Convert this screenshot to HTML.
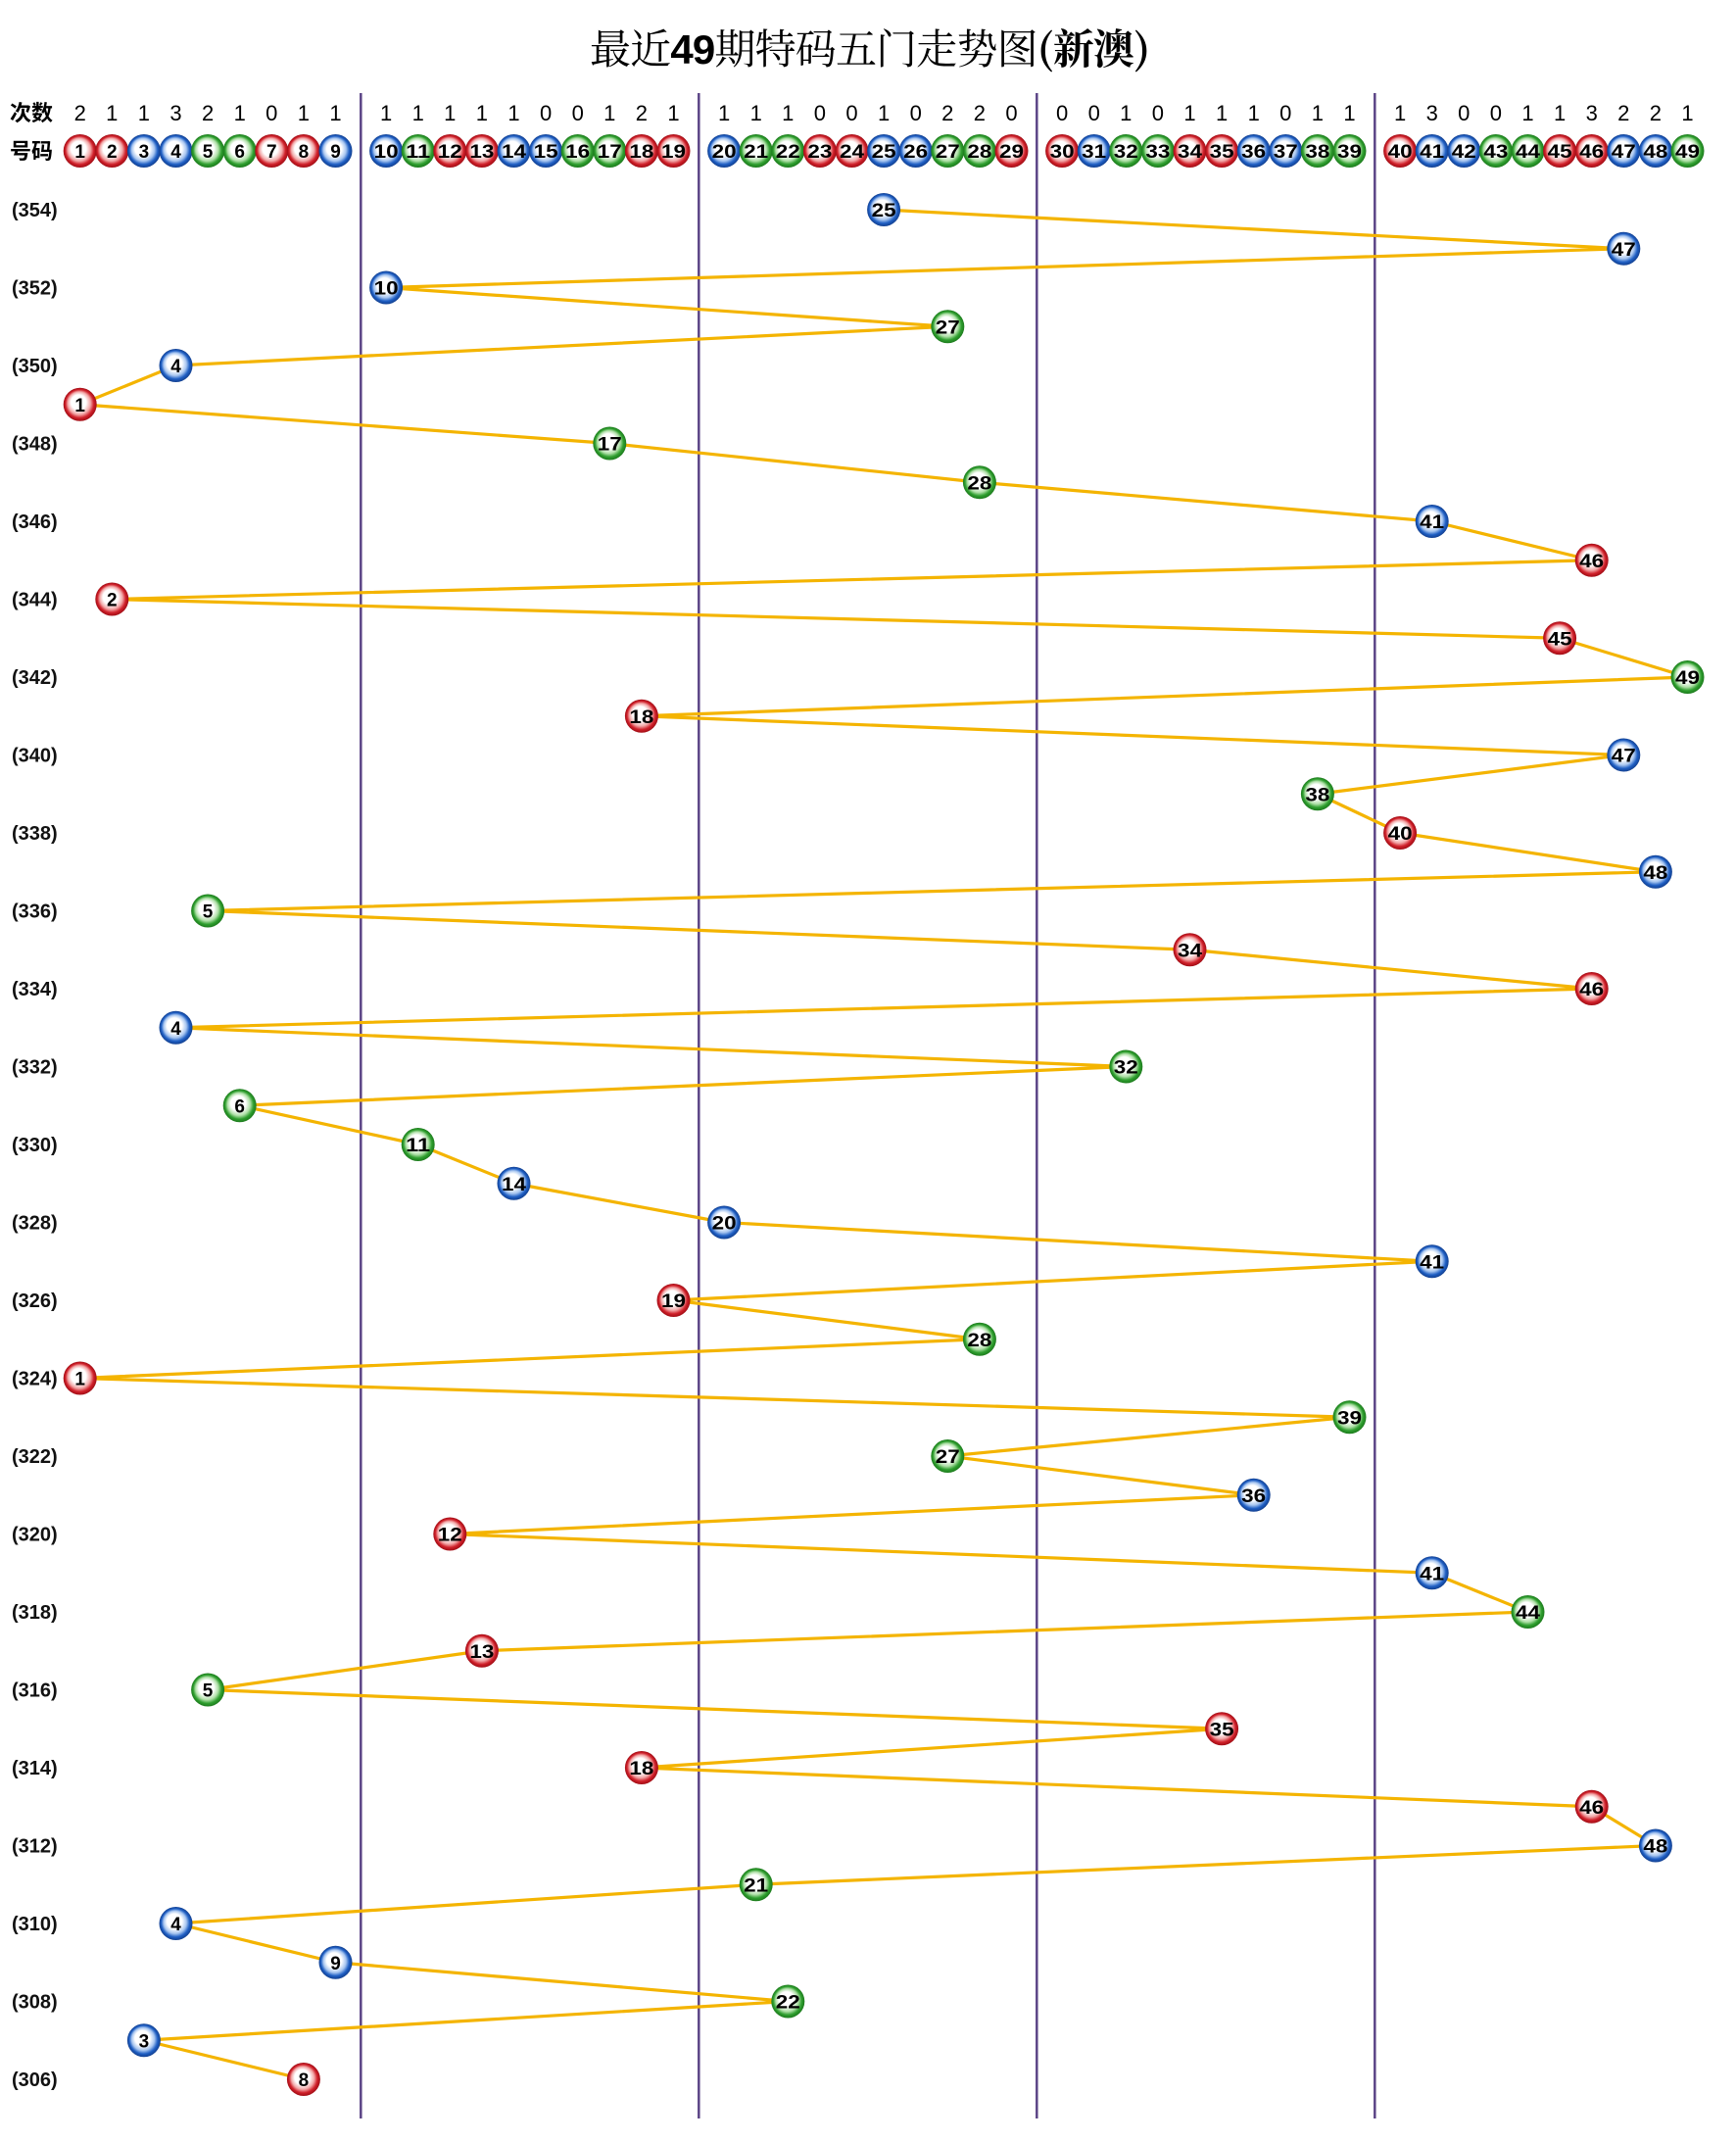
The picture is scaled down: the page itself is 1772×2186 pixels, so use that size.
<!DOCTYPE html>
<html><head><meta charset="utf-8"><style>
html,body{margin:0;padding:0;background:#fff}
svg{display:block}
.t{font-family:"Liberation Sans","Noto Sans CJK SC",sans-serif}
.n{font-family:"Liberation Sans",sans-serif;font-weight:bold;font-size:19px;fill:#000;text-anchor:middle}
.c{font-family:"Liberation Sans",sans-serif;font-size:22px;fill:#000;text-anchor:middle}
.l{font-family:"Liberation Sans",sans-serif;font-weight:bold;font-size:20px;fill:#111}
</style></head><body>
<svg width="1772" height="2186" viewBox="0 0 1772 2186" xmlns="http://www.w3.org/2000/svg">
<defs>
<radialGradient id="r" cx="0.5" cy="0.5" r="0.5" fx="0.42" fy="0.38"><stop offset="0" stop-color="#fff"/><stop offset="0.45" stop-color="#fff"/><stop offset="0.68" stop-color="#f2a8a8"/><stop offset="0.85" stop-color="#d0202a"/><stop offset="1" stop-color="#a00d15"/></radialGradient>
<radialGradient id="b" cx="0.5" cy="0.5" r="0.5" fx="0.42" fy="0.38"><stop offset="0" stop-color="#fff"/><stop offset="0.45" stop-color="#fff"/><stop offset="0.68" stop-color="#a8c6f0"/><stop offset="0.85" stop-color="#1f5fc4"/><stop offset="1" stop-color="#123f8f"/></radialGradient>
<radialGradient id="g" cx="0.5" cy="0.5" r="0.5" fx="0.42" fy="0.38"><stop offset="0" stop-color="#fff"/><stop offset="0.45" stop-color="#fff"/><stop offset="0.68" stop-color="#b0e0a8"/><stop offset="0.85" stop-color="#2f9f2f"/><stop offset="1" stop-color="#1c7a1c"/></radialGradient>
</defs>
<text x="888" y="65" text-anchor="middle" font-size="42" textLength="572" class="t" style="font-family:'Noto Serif CJK SC','Liberation Serif',serif">最近<tspan style="font-family:'Liberation Sans',sans-serif;font-weight:bold">49</tspan>期特码五门走势图<tspan style="font-weight:bold">(新澳)</tspan></text>
<g stroke="#5b4486" stroke-width="2.5">
<line x1="368.3" y1="95" x2="368.3" y2="2162"/><line x1="713.3" y1="95" x2="713.3" y2="2162"/><line x1="1058.3" y1="95" x2="1058.3" y2="2162"/><line x1="1403.3" y1="95" x2="1403.3" y2="2162"/>
</g>
<text x="10" y="123" font-size="22" font-weight="bold" class="t">次数</text>
<text x="10" y="162" font-size="22" font-weight="bold" class="t">号码</text>
<g class="c">
<text x="81.7" y="123">2</text><text x="114.3" y="123">1</text><text x="146.9" y="123">1</text><text x="179.5" y="123">3</text><text x="212.1" y="123">2</text><text x="244.7" y="123">1</text><text x="277.3" y="123">0</text><text x="309.9" y="123">1</text><text x="342.5" y="123">1</text>
<text x="394.1" y="123">1</text><text x="426.7" y="123">1</text><text x="459.3" y="123">1</text><text x="491.9" y="123">1</text><text x="524.5" y="123">1</text><text x="557.1" y="123">0</text><text x="589.7" y="123">0</text><text x="622.3" y="123">1</text><text x="654.9" y="123">2</text><text x="687.5" y="123">1</text>
<text x="739.1" y="123">1</text><text x="771.7" y="123">1</text><text x="804.3" y="123">1</text><text x="836.9" y="123">0</text><text x="869.5" y="123">0</text><text x="902.1" y="123">1</text><text x="934.7" y="123">0</text><text x="967.3" y="123">2</text><text x="999.9" y="123">2</text><text x="1032.5" y="123">0</text>
<text x="1084.1" y="123">0</text><text x="1116.7" y="123">0</text><text x="1149.3" y="123">1</text><text x="1181.9" y="123">0</text><text x="1214.5" y="123">1</text><text x="1247.1" y="123">1</text><text x="1279.7" y="123">1</text><text x="1312.3" y="123">0</text><text x="1344.9" y="123">1</text><text x="1377.5" y="123">1</text>
<text x="1429.1" y="123">1</text><text x="1461.7" y="123">3</text><text x="1494.3" y="123">0</text><text x="1526.9" y="123">0</text><text x="1559.5" y="123">1</text><text x="1592.1" y="123">1</text><text x="1624.7" y="123">3</text><text x="1657.3" y="123">2</text><text x="1689.9" y="123">2</text><text x="1722.5" y="123">1</text>
</g>
<g class="l">
<text x="12" y="221">(354)</text><text x="12" y="300.5">(352)</text><text x="12" y="380">(350)</text><text x="12" y="459.5">(348)</text><text x="12" y="539">(346)</text><text x="12" y="618.5">(344)</text><text x="12" y="698">(342)</text><text x="12" y="777.5">(340)</text><text x="12" y="857">(338)</text><text x="12" y="936.5">(336)</text><text x="12" y="1016">(334)</text><text x="12" y="1095.5">(332)</text><text x="12" y="1175">(330)</text><text x="12" y="1254.5">(328)</text><text x="12" y="1334">(326)</text><text x="12" y="1413.5">(324)</text><text x="12" y="1493">(322)</text><text x="12" y="1572.5">(320)</text><text x="12" y="1652">(318)</text><text x="12" y="1731.5">(316)</text><text x="12" y="1811">(314)</text><text x="12" y="1890.5">(312)</text><text x="12" y="1970">(310)</text><text x="12" y="2049.5">(308)</text><text x="12" y="2129">(306)</text>
</g>
<polyline fill="none" stroke="#f4b400" stroke-width="3.2" stroke-linejoin="round" points="902.1,214 1657.3,253.75 394.1,293.5 967.3,333.25 179.5,373 81.7,412.75 622.3,452.5 999.9,492.25 1461.7,532 1624.7,571.75 114.3,611.5 1592.1,651.25 1722.5,691 654.9,730.75 1657.3,770.5 1344.9,810.25 1429.1,850 1689.9,889.75 212.1,929.5 1214.5,969.25 1624.7,1009 179.5,1048.75 1149.3,1088.5 244.7,1128.25 426.7,1168 524.5,1207.75 739.1,1247.5 1461.7,1287.25 687.5,1327 999.9,1366.75 81.7,1406.5 1377.5,1446.25 967.3,1486 1279.7,1525.75 459.3,1565.5 1461.7,1605.25 1559.5,1645 491.9,1684.75 212.1,1724.5 1247.1,1764.25 654.9,1804 1624.7,1843.75 1689.9,1883.5 771.7,1923.25 179.5,1963 342.5,2002.75 804.3,2042.5 146.9,2082.25 309.9,2122"/>
<g>
<circle cx="81.7" cy="154" r="17" fill="url(#r)"/><circle cx="114.3" cy="154" r="17" fill="url(#r)"/><circle cx="146.9" cy="154" r="17" fill="url(#b)"/><circle cx="179.5" cy="154" r="17" fill="url(#b)"/><circle cx="212.1" cy="154" r="17" fill="url(#g)"/><circle cx="244.7" cy="154" r="17" fill="url(#g)"/><circle cx="277.3" cy="154" r="17" fill="url(#r)"/><circle cx="309.9" cy="154" r="17" fill="url(#r)"/><circle cx="342.5" cy="154" r="17" fill="url(#b)"/>
<circle cx="394.1" cy="154" r="17" fill="url(#b)"/><circle cx="426.7" cy="154" r="17" fill="url(#g)"/><circle cx="459.3" cy="154" r="17" fill="url(#r)"/><circle cx="491.9" cy="154" r="17" fill="url(#r)"/><circle cx="524.5" cy="154" r="17" fill="url(#b)"/><circle cx="557.1" cy="154" r="17" fill="url(#b)"/><circle cx="589.7" cy="154" r="17" fill="url(#g)"/><circle cx="622.3" cy="154" r="17" fill="url(#g)"/><circle cx="654.9" cy="154" r="17" fill="url(#r)"/><circle cx="687.5" cy="154" r="17" fill="url(#r)"/>
<circle cx="739.1" cy="154" r="17" fill="url(#b)"/><circle cx="771.7" cy="154" r="17" fill="url(#g)"/><circle cx="804.3" cy="154" r="17" fill="url(#g)"/><circle cx="836.9" cy="154" r="17" fill="url(#r)"/><circle cx="869.5" cy="154" r="17" fill="url(#r)"/><circle cx="902.1" cy="154" r="17" fill="url(#b)"/><circle cx="934.7" cy="154" r="17" fill="url(#b)"/><circle cx="967.3" cy="154" r="17" fill="url(#g)"/><circle cx="999.9" cy="154" r="17" fill="url(#g)"/><circle cx="1032.5" cy="154" r="17" fill="url(#r)"/>
<circle cx="1084.1" cy="154" r="17" fill="url(#r)"/><circle cx="1116.7" cy="154" r="17" fill="url(#b)"/><circle cx="1149.3" cy="154" r="17" fill="url(#g)"/><circle cx="1181.9" cy="154" r="17" fill="url(#g)"/><circle cx="1214.5" cy="154" r="17" fill="url(#r)"/><circle cx="1247.1" cy="154" r="17" fill="url(#r)"/><circle cx="1279.7" cy="154" r="17" fill="url(#b)"/><circle cx="1312.3" cy="154" r="17" fill="url(#b)"/><circle cx="1344.9" cy="154" r="17" fill="url(#g)"/><circle cx="1377.5" cy="154" r="17" fill="url(#g)"/>
<circle cx="1429.1" cy="154" r="17" fill="url(#r)"/><circle cx="1461.7" cy="154" r="17" fill="url(#b)"/><circle cx="1494.3" cy="154" r="17" fill="url(#b)"/><circle cx="1526.9" cy="154" r="17" fill="url(#g)"/><circle cx="1559.5" cy="154" r="17" fill="url(#g)"/><circle cx="1592.1" cy="154" r="17" fill="url(#r)"/><circle cx="1624.7" cy="154" r="17" fill="url(#r)"/><circle cx="1657.3" cy="154" r="17" fill="url(#b)"/><circle cx="1689.9" cy="154" r="17" fill="url(#b)"/><circle cx="1722.5" cy="154" r="17" fill="url(#g)"/>
</g>
<g class="n">
<text x="81.7" y="161">1</text><text x="114.3" y="161">2</text><text x="146.9" y="161">3</text><text x="179.5" y="161">4</text><text x="212.1" y="161">5</text><text x="244.7" y="161">6</text><text x="277.3" y="161">7</text><text x="309.9" y="161">8</text><text x="342.5" y="161">9</text>
<text x="394.1" y="161" textLength="25" lengthAdjust="spacingAndGlyphs">10</text><text x="426.7" y="161" textLength="25" lengthAdjust="spacingAndGlyphs">11</text><text x="459.3" y="161" textLength="25" lengthAdjust="spacingAndGlyphs">12</text><text x="491.9" y="161" textLength="25" lengthAdjust="spacingAndGlyphs">13</text><text x="524.5" y="161" textLength="25" lengthAdjust="spacingAndGlyphs">14</text><text x="557.1" y="161" textLength="25" lengthAdjust="spacingAndGlyphs">15</text><text x="589.7" y="161" textLength="25" lengthAdjust="spacingAndGlyphs">16</text><text x="622.3" y="161" textLength="25" lengthAdjust="spacingAndGlyphs">17</text><text x="654.9" y="161" textLength="25" lengthAdjust="spacingAndGlyphs">18</text><text x="687.5" y="161" textLength="25" lengthAdjust="spacingAndGlyphs">19</text>
<text x="739.1" y="161" textLength="25" lengthAdjust="spacingAndGlyphs">20</text><text x="771.7" y="161" textLength="25" lengthAdjust="spacingAndGlyphs">21</text><text x="804.3" y="161" textLength="25" lengthAdjust="spacingAndGlyphs">22</text><text x="836.9" y="161" textLength="25" lengthAdjust="spacingAndGlyphs">23</text><text x="869.5" y="161" textLength="25" lengthAdjust="spacingAndGlyphs">24</text><text x="902.1" y="161" textLength="25" lengthAdjust="spacingAndGlyphs">25</text><text x="934.7" y="161" textLength="25" lengthAdjust="spacingAndGlyphs">26</text><text x="967.3" y="161" textLength="25" lengthAdjust="spacingAndGlyphs">27</text><text x="999.9" y="161" textLength="25" lengthAdjust="spacingAndGlyphs">28</text><text x="1032.5" y="161" textLength="25" lengthAdjust="spacingAndGlyphs">29</text>
<text x="1084.1" y="161" textLength="25" lengthAdjust="spacingAndGlyphs">30</text><text x="1116.7" y="161" textLength="25" lengthAdjust="spacingAndGlyphs">31</text><text x="1149.3" y="161" textLength="25" lengthAdjust="spacingAndGlyphs">32</text><text x="1181.9" y="161" textLength="25" lengthAdjust="spacingAndGlyphs">33</text><text x="1214.5" y="161" textLength="25" lengthAdjust="spacingAndGlyphs">34</text><text x="1247.1" y="161" textLength="25" lengthAdjust="spacingAndGlyphs">35</text><text x="1279.7" y="161" textLength="25" lengthAdjust="spacingAndGlyphs">36</text><text x="1312.3" y="161" textLength="25" lengthAdjust="spacingAndGlyphs">37</text><text x="1344.9" y="161" textLength="25" lengthAdjust="spacingAndGlyphs">38</text><text x="1377.5" y="161" textLength="25" lengthAdjust="spacingAndGlyphs">39</text>
<text x="1429.1" y="161" textLength="25" lengthAdjust="spacingAndGlyphs">40</text><text x="1461.7" y="161" textLength="25" lengthAdjust="spacingAndGlyphs">41</text><text x="1494.3" y="161" textLength="25" lengthAdjust="spacingAndGlyphs">42</text><text x="1526.9" y="161" textLength="25" lengthAdjust="spacingAndGlyphs">43</text><text x="1559.5" y="161" textLength="25" lengthAdjust="spacingAndGlyphs">44</text><text x="1592.1" y="161" textLength="25" lengthAdjust="spacingAndGlyphs">45</text><text x="1624.7" y="161" textLength="25" lengthAdjust="spacingAndGlyphs">46</text><text x="1657.3" y="161" textLength="25" lengthAdjust="spacingAndGlyphs">47</text><text x="1689.9" y="161" textLength="25" lengthAdjust="spacingAndGlyphs">48</text><text x="1722.5" y="161" textLength="25" lengthAdjust="spacingAndGlyphs">49</text>
</g>
<g>
<circle cx="902.1" cy="214" r="17" fill="url(#b)"/><circle cx="1657.3" cy="253.75" r="17" fill="url(#b)"/><circle cx="394.1" cy="293.5" r="17" fill="url(#b)"/><circle cx="967.3" cy="333.25" r="17" fill="url(#g)"/><circle cx="179.5" cy="373" r="17" fill="url(#b)"/><circle cx="81.7" cy="412.75" r="17" fill="url(#r)"/><circle cx="622.3" cy="452.5" r="17" fill="url(#g)"/><circle cx="999.9" cy="492.25" r="17" fill="url(#g)"/><circle cx="1461.7" cy="532" r="17" fill="url(#b)"/><circle cx="1624.7" cy="571.75" r="17" fill="url(#r)"/><circle cx="114.3" cy="611.5" r="17" fill="url(#r)"/><circle cx="1592.1" cy="651.25" r="17" fill="url(#r)"/><circle cx="1722.5" cy="691" r="17" fill="url(#g)"/><circle cx="654.9" cy="730.75" r="17" fill="url(#r)"/><circle cx="1657.3" cy="770.5" r="17" fill="url(#b)"/><circle cx="1344.9" cy="810.25" r="17" fill="url(#g)"/><circle cx="1429.1" cy="850" r="17" fill="url(#r)"/><circle cx="1689.9" cy="889.75" r="17" fill="url(#b)"/><circle cx="212.1" cy="929.5" r="17" fill="url(#g)"/><circle cx="1214.5" cy="969.25" r="17" fill="url(#r)"/><circle cx="1624.7" cy="1009" r="17" fill="url(#r)"/><circle cx="179.5" cy="1048.75" r="17" fill="url(#b)"/><circle cx="1149.3" cy="1088.5" r="17" fill="url(#g)"/><circle cx="244.7" cy="1128.25" r="17" fill="url(#g)"/><circle cx="426.7" cy="1168" r="17" fill="url(#g)"/><circle cx="524.5" cy="1207.75" r="17" fill="url(#b)"/><circle cx="739.1" cy="1247.5" r="17" fill="url(#b)"/><circle cx="1461.7" cy="1287.25" r="17" fill="url(#b)"/><circle cx="687.5" cy="1327" r="17" fill="url(#r)"/><circle cx="999.9" cy="1366.75" r="17" fill="url(#g)"/><circle cx="81.7" cy="1406.5" r="17" fill="url(#r)"/><circle cx="1377.5" cy="1446.25" r="17" fill="url(#g)"/><circle cx="967.3" cy="1486" r="17" fill="url(#g)"/><circle cx="1279.7" cy="1525.75" r="17" fill="url(#b)"/><circle cx="459.3" cy="1565.5" r="17" fill="url(#r)"/><circle cx="1461.7" cy="1605.25" r="17" fill="url(#b)"/><circle cx="1559.5" cy="1645" r="17" fill="url(#g)"/><circle cx="491.9" cy="1684.75" r="17" fill="url(#r)"/><circle cx="212.1" cy="1724.5" r="17" fill="url(#g)"/><circle cx="1247.1" cy="1764.25" r="17" fill="url(#r)"/><circle cx="654.9" cy="1804" r="17" fill="url(#r)"/><circle cx="1624.7" cy="1843.75" r="17" fill="url(#r)"/><circle cx="1689.9" cy="1883.5" r="17" fill="url(#b)"/><circle cx="771.7" cy="1923.25" r="17" fill="url(#g)"/><circle cx="179.5" cy="1963" r="17" fill="url(#b)"/><circle cx="342.5" cy="2002.75" r="17" fill="url(#b)"/><circle cx="804.3" cy="2042.5" r="17" fill="url(#g)"/><circle cx="146.9" cy="2082.25" r="17" fill="url(#b)"/><circle cx="309.9" cy="2122" r="17" fill="url(#r)"/>
</g>
<g class="n">
<text x="902.1" y="221" textLength="25" lengthAdjust="spacingAndGlyphs">25</text><text x="1657.3" y="260.75" textLength="25" lengthAdjust="spacingAndGlyphs">47</text><text x="394.1" y="300.5" textLength="25" lengthAdjust="spacingAndGlyphs">10</text><text x="967.3" y="340.25" textLength="25" lengthAdjust="spacingAndGlyphs">27</text><text x="179.5" y="380">4</text><text x="81.7" y="419.75">1</text><text x="622.3" y="459.5" textLength="25" lengthAdjust="spacingAndGlyphs">17</text><text x="999.9" y="499.25" textLength="25" lengthAdjust="spacingAndGlyphs">28</text><text x="1461.7" y="539" textLength="25" lengthAdjust="spacingAndGlyphs">41</text><text x="1624.7" y="578.75" textLength="25" lengthAdjust="spacingAndGlyphs">46</text><text x="114.3" y="618.5">2</text><text x="1592.1" y="658.25" textLength="25" lengthAdjust="spacingAndGlyphs">45</text><text x="1722.5" y="698" textLength="25" lengthAdjust="spacingAndGlyphs">49</text><text x="654.9" y="737.75" textLength="25" lengthAdjust="spacingAndGlyphs">18</text><text x="1657.3" y="777.5" textLength="25" lengthAdjust="spacingAndGlyphs">47</text><text x="1344.9" y="817.25" textLength="25" lengthAdjust="spacingAndGlyphs">38</text><text x="1429.1" y="857" textLength="25" lengthAdjust="spacingAndGlyphs">40</text><text x="1689.9" y="896.75" textLength="25" lengthAdjust="spacingAndGlyphs">48</text><text x="212.1" y="936.5">5</text><text x="1214.5" y="976.25" textLength="25" lengthAdjust="spacingAndGlyphs">34</text><text x="1624.7" y="1016" textLength="25" lengthAdjust="spacingAndGlyphs">46</text><text x="179.5" y="1055.75">4</text><text x="1149.3" y="1095.5" textLength="25" lengthAdjust="spacingAndGlyphs">32</text><text x="244.7" y="1135.25">6</text><text x="426.7" y="1175" textLength="25" lengthAdjust="spacingAndGlyphs">11</text><text x="524.5" y="1214.75" textLength="25" lengthAdjust="spacingAndGlyphs">14</text><text x="739.1" y="1254.5" textLength="25" lengthAdjust="spacingAndGlyphs">20</text><text x="1461.7" y="1294.25" textLength="25" lengthAdjust="spacingAndGlyphs">41</text><text x="687.5" y="1334" textLength="25" lengthAdjust="spacingAndGlyphs">19</text><text x="999.9" y="1373.75" textLength="25" lengthAdjust="spacingAndGlyphs">28</text><text x="81.7" y="1413.5">1</text><text x="1377.5" y="1453.25" textLength="25" lengthAdjust="spacingAndGlyphs">39</text><text x="967.3" y="1493" textLength="25" lengthAdjust="spacingAndGlyphs">27</text><text x="1279.7" y="1532.75" textLength="25" lengthAdjust="spacingAndGlyphs">36</text><text x="459.3" y="1572.5" textLength="25" lengthAdjust="spacingAndGlyphs">12</text><text x="1461.7" y="1612.25" textLength="25" lengthAdjust="spacingAndGlyphs">41</text><text x="1559.5" y="1652" textLength="25" lengthAdjust="spacingAndGlyphs">44</text><text x="491.9" y="1691.75" textLength="25" lengthAdjust="spacingAndGlyphs">13</text><text x="212.1" y="1731.5">5</text><text x="1247.1" y="1771.25" textLength="25" lengthAdjust="spacingAndGlyphs">35</text><text x="654.9" y="1811" textLength="25" lengthAdjust="spacingAndGlyphs">18</text><text x="1624.7" y="1850.75" textLength="25" lengthAdjust="spacingAndGlyphs">46</text><text x="1689.9" y="1890.5" textLength="25" lengthAdjust="spacingAndGlyphs">48</text><text x="771.7" y="1930.25" textLength="25" lengthAdjust="spacingAndGlyphs">21</text><text x="179.5" y="1970">4</text><text x="342.5" y="2009.75">9</text><text x="804.3" y="2049.5" textLength="25" lengthAdjust="spacingAndGlyphs">22</text><text x="146.9" y="2089.25">3</text><text x="309.9" y="2129">8</text>
</g>
</svg>
</body></html>
